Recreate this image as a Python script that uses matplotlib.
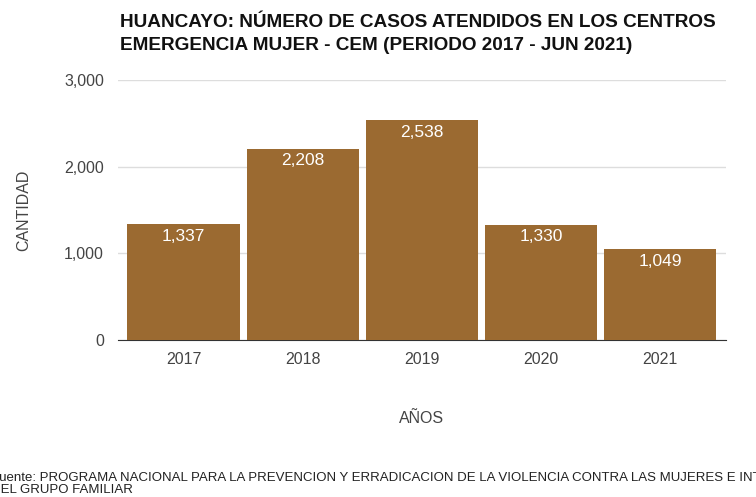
import matplotlib
matplotlib.use('Agg')
import matplotlib.pyplot as plt
from matplotlib.ticker import FuncFormatter

plt.rcParams['font.family'] = ['Liberation Sans', 'DejaVu Sans']

years = ['2017', '2018', '2019', '2020', '2021']
casos = [1337, 2208, 2538, 1330, 1049]
yticks = [0, 1000, 2000, 3000]

bar_color = '#9b6a31'
text_gray = '#444444'

fig = plt.figure(figsize=(7.56, 4.97), dpi=100)
ax = fig.add_axes([0.156, 0.316, 0.804, 0.523])

x = range(len(years))
bars = ax.bar(x, casos, width=0.94, color=bar_color, zorder=3)
for b, v in zip(bars, casos):
    ax.text(b.get_x() + b.get_width() / 2, v - 55, f'{v:,}', ha='center', va='top',
            color='white', fontsize=12.5, zorder=4)

ax.set_xlim(-0.55, len(years) - 0.45)
ax.set_ylim(0, 3000)
ax.set_yticks(yticks)
ax.yaxis.set_major_formatter(FuncFormatter(lambda v, p: f'{int(v):,}'))
ax.set_xticks(list(x))
ax.set_xticklabels(years)
ax.grid(axis='y', color='#dddddd', linewidth=1, zorder=0)
for s in ['top', 'right', 'left']:
    ax.spines[s].set_visible(False)
ax.spines['bottom'].set_color('#333333')
ax.tick_params(axis='both', length=0, labelsize=11.5, colors=text_gray, pad=10)
ax.tick_params(axis='x', pad=9)

ax.set_ylabel('CANTIDAD', fontsize=11.5, color=text_gray, labelpad=24)
ax.set_xlabel('AÑOS', fontsize=11.5, color=text_gray, labelpad=31)

fig.text(0.159, 0.972, 'HUANCAYO: NÚMERO DE CASOS ATENDIDOS EN LOS CENTROS\nEMERGENCIA MUJER - CEM (PERIODO 2017 - JUN 2021)',
         fontsize=13.7, fontweight='bold', color='#111111', ha='left', va='top', linespacing=1.45)

fig.text(-0.012, 0.051, 'Fuente: PROGRAMA NACIONAL PARA LA PREVENCION Y ERRADICACION DE LA VIOLENCIA CONTRA LAS MUJERES E INTEGRANTES\nDEL GRUPO FAMILIAR',
         fontsize=9.5, color='#222222', ha='left', va='top', linespacing=1.05)

fig.savefig('out.png', dpi=100)
